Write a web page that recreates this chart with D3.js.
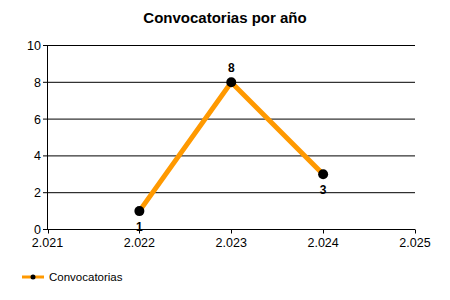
<!DOCTYPE html>
<html><head><meta charset="utf-8">
<script src="https://cdn.jsdelivr.net/npm/d3@7"></script>
<style>body{margin:0;background:#fff}svg{display:block}text{font-family:"Liberation Sans",Arial,sans-serif}</style>
</head><body><svg id="c" width="450" height="300"></svg>
<script>
const years = [2022, 2023, 2024];
const values = [1, 8, 3];
const xTicks = [2021, 2022, 2023, 2024, 2025];
const xTickLabels = ["2.021", "2.022", "2.023", "2.024", "2.025"];
const yTicks = [0, 2, 4, 6, 8, 10];
const seriesName = "Convocatorias";
const title = "Convocatorias por año";

const svg = d3.select("#c");
const x = d3.scaleLinear().domain([2021, 2025]).range([47.5, 415]);
const y = d3.scaleLinear().domain([0, 10]).range([229.5, 45.5]);

svg.append("text").attr("x", 225).attr("y", 23).attr("text-anchor", "middle")
  .attr("font-size", 15).attr("font-weight", "bold").text(title);

// grid
svg.append("g").selectAll("line").data(yTicks).join("line")
  .attr("x1", 43).attr("x2", 415).attr("y1", d => y(d)).attr("y2", d => y(d))
  .attr("stroke", "#000").attr("stroke-width", 1);
// y axis
svg.append("line").attr("x1", 47.5).attr("x2", 47.5).attr("y1", y(10)).attr("y2", y(0)).attr("stroke", "#000");
svg.append("g").selectAll("text").data(yTicks).join("text")
  .attr("x", 41).attr("y", d => y(d) + 4.5).attr("text-anchor", "end").attr("font-size", 12.5).text(d => d);
// x ticks
svg.append("g").selectAll("line").data(xTicks).join("line")
  .attr("x1", d => Math.round(x(d)) + 0.5).attr("x2", d => Math.round(x(d)) + 0.5)
  .attr("y1", y(0)).attr("y2", y(0) + 4).attr("stroke", "#000");
svg.append("g").selectAll("text").data(xTicks).join("text")
  .attr("x", d => x(d)).attr("y", 247).attr("text-anchor", "middle").attr("font-size", 12.5)
  .text((d, i) => xTickLabels[i]);

const pts = years.map((yr, i) => [yr, values[i]]);
svg.append("path").datum(pts)
  .attr("d", d3.line().x(d => x(d[0])).y(d => y(d[1])))
  .attr("fill", "none").attr("stroke", "#FF9900").attr("stroke-width", 5);
svg.append("g").selectAll("circle").data(pts).join("circle")
  .attr("cx", d => x(d[0])).attr("cy", d => y(d[1])).attr("r", 5).attr("fill", "#000");
svg.append("g").selectAll("text").data(pts).join("text")
  .attr("x", d => x(d[0])).attr("y", (d, i) => i === 1 ? y(d[1]) - 10 : y(d[1]) + 20)
  .attr("text-anchor", "middle").attr("font-size", 12).attr("font-weight", "bold").text(d => d[1]);

// legend
svg.append("line").attr("x1", 22).attr("x2", 44).attr("y1", 277).attr("y2", 277)
  .attr("stroke", "#FF9900").attr("stroke-width", 3);
svg.append("circle").attr("cx", 33).attr("cy", 277).attr("r", 2.5).attr("fill", "#000");
svg.append("text").attr("x", 49).attr("y", 281).attr("font-size", 11.5).text(seriesName);
</script></body></html>
